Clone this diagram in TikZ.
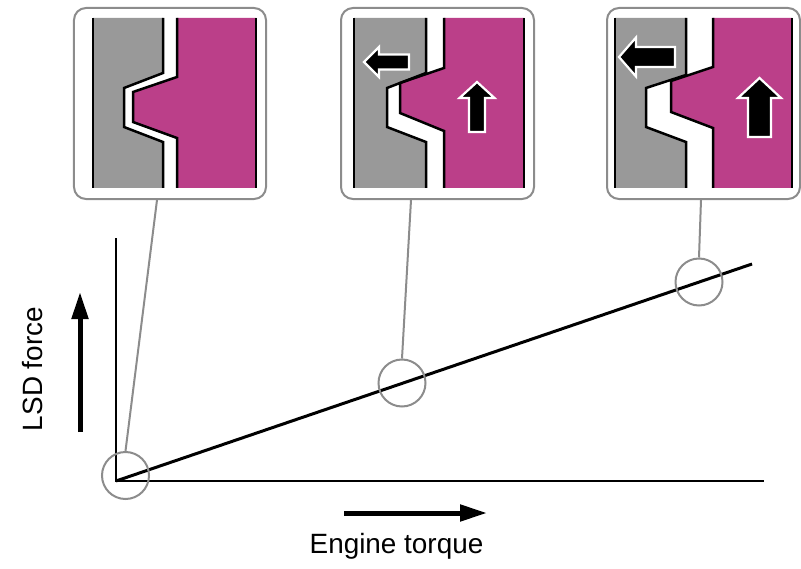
\documentclass[tikz,border=0pt]{standalone}
\usepackage{fontspec}
\setmainfont{Liberation Sans}
\usepackage{tikz}
\usetikzlibrary{arrows.meta}

\definecolor{plategray}{HTML}{999999}
\definecolor{camred}{HTML}{BB3F89}
\definecolor{framegray}{HTML}{8C8C8C}

\begin{document}
\begin{tikzpicture}[x=1bp,y=-1bp,
	panel/.style={draw=framegray,fill=white,line width=2bp,rounded corners=12bp,minimum height=191bp,inner sep=0pt},
	edge/.style={line width=2.5bp,line join=miter},
	push/.style={fill=black,draw=white,line width=2.2bp,line join=miter},
	ring/.style={circle,draw=framegray,line width=2bp,minimum size=47bp,inner sep=0pt},
	link/.style={draw=framegray,line width=2bp},
	axis/.style={line width=1.2bp},
	big/.style={line width=5bp,-{Triangle[length=27bp,width=16bp]}},
	lbl/.style={font=\fontsize{28}{33}\selectfont,inner sep=0pt}]
	\useasboundingbox (0,0) rectangle (801,569);

	% graph
	\coordinate (o) at (116,481);
	\coordinate (ytop) at (116,238);
	\coordinate (xend) at (764,481);
	\coordinate (lend) at (752,264);
	\draw[axis] (ytop) -- (o) -- (xend);
	\draw[line width=3bp] (o) -- (lend);
	\node[ring] (c1) at (125.5,475.5) {};
	\node[ring] (c2) at (402,383) {};
	\node[ring] (c3) at (699,282) {};

	\node[panel,minimum width=192bp] (p1) at (170,103.5) {};
	\node[panel,minimum width=193bp] (p2) at (437.5,103.5) {};
	\node[panel,minimum width=193bp] (p3) at (703.5,103.5) {};
	\draw[link] (c1.north) -- ([xshift=-13bp]p1.south);
	\draw[link] (c2.north) -- ([xshift=-26.5bp]p2.south);
	\draw[link] (c3.north) -- ([xshift=-2.5bp]p3.south);

	% low torque
	\fill[plategray] (93,18) -- (163,18) -- (163,73) -- (124,88) -- (124,127) -- (163,142) -- (163,188) -- (93,188) -- cycle;
	\fill[camred] (177,18) -- (256,18) -- (256,188) -- (177,188) -- (177,138) -- (133,122) -- (133,92) -- (177,77) -- cycle;
	\draw[edge] (93,18) -- (93,188) (256,18) -- (256,188);
	\draw[edge] (163,18) -- (163,73) -- (124,88) -- (124,127) -- (163,142) -- (163,188);
	\draw[edge] (177,18) -- (177,77) -- (133,92) -- (133,122) -- (177,138) -- (177,188);

	% medium torque
	\fill[plategray] (354,18) -- (426,18) -- (426,73) -- (387,88) -- (387,127) -- (426,142) -- (426,188) -- (354,188) -- cycle;
	\fill[camred] (444,18) -- (524,18) -- (524,188) -- (444,188) -- (444,131) -- (400,113) -- (400,83) -- (444,68) -- cycle;
	\draw[edge] (354,18) -- (354,188) (524,18) -- (524,188);
	\draw[edge] (426,18) -- (426,73) -- (387,88) -- (387,127) -- (426,142) -- (426,188);
	\draw[edge] (444,18) -- (444,68) -- (400,83) -- (400,113) -- (444,131) -- (444,188);
	\draw[push] (364,62) -- ++(15,-15) -- ++(0,7.5) -- ++(30,0) -- ++(0,15) -- ++(-30,0) -- ++(0,7.5) -- cycle;
	\draw[push] (477,82) -- ++(17.5,16) -- ++(-9.5,0) -- ++(0,34) -- ++(-16,0) -- ++(0,-34) -- ++(-9.5,0) -- cycle;

	% high torque
	\fill[plategray] (615,18) -- (686,18) -- (686,75) -- (646,88) -- (646,127) -- (686,142) -- (686,188) -- (615,188) -- cycle;
	\fill[camred] (713,18) -- (792,18) -- (792,188) -- (713,188) -- (713,128) -- (671,112) -- (671,81) -- (713,67) -- cycle;
	\draw[edge] (615,18) -- (615,188) (792,18) -- (792,188);
	\draw[edge] (686,18) -- (686,75) -- (646,88) -- (646,127) -- (686,142) -- (686,188);
	\draw[edge] (713,18) -- (713,67) -- (671,81) -- (671,112) -- (713,128) -- (713,188);
	\draw[push] (619,57) -- ++(17,-19.5) -- ++(0,9.5) -- ++(39,0) -- ++(0,20) -- ++(-39,0) -- ++(0,9.5) -- cycle;
	\draw[push] (759.5,78) -- ++(21.5,20) -- ++(-10,0) -- ++(0,39) -- ++(-23,0) -- ++(0,-39) -- ++(-10,0) -- cycle;

	% axis labels
	\coordinate (fa) at (80,432);
	\coordinate (fb) at (80,292);
	\coordinate (ta) at (344,513);
	\coordinate (tb) at (487,513);
	\draw[big] (fa) -- (fb);
	\draw[big] (ta) -- (tb);
	\node[lbl,rotate=90,anchor=base] (force) at (42,369) {LSD force};
	\node[lbl,anchor=base] (torque) at (396.5,553) {Engine torque};
\end{tikzpicture}
\end{document}
